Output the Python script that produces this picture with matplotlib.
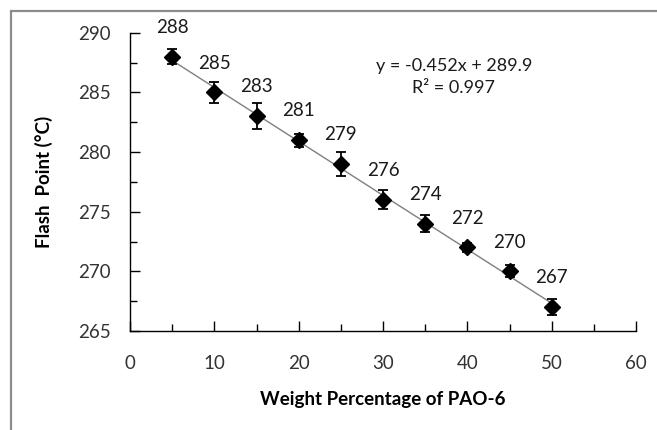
import numpy as np
import matplotlib
matplotlib.use("Agg")
import matplotlib.pyplot as plt
from matplotlib.patches import Rectangle

# data
pao = [5, 10, 15, 20, 25, 30, 35, 40, 45, 50]
flash = [288, 285, 283, 281, 279, 276, 274, 272, 270, 267]
err = [0.6, 0.85, 1.1, 0.55, 1.0, 0.8, 0.7, 0.4, 0.5, 0.65]
eq_text = "y = -0.452x + 289.9"
r2_text = "R\u00b2 = 0.997"

plt.rcParams['font.family'] = ['Lato', 'DejaVu Sans']

fig = plt.figure(figsize=(6.57, 4.30), dpi=100)
ax = fig.add_axes([130/657, 1-331/430, (636-130)/657, (331-32.7)/430])

# outer chart frame (grey)
fig.patches.append(Rectangle((11/657, -0.1), 1.2, 1-11/430+0.1, transform=fig.transFigure,
                             fill=False, edgecolor='#8c8c8c', linewidth=1.6))

# trendline
k, b = np.polyfit(pao, flash, 1)
xs = np.array([pao[0], pao[-1]])
ax.plot(xs, k*xs + b, color='#7f7f7f', linewidth=1.0, zorder=1)

ax.errorbar(pao, flash, yerr=err, fmt='D', color='black', markersize=8.5,
            ecolor='black', elinewidth=1.3, capsize=3.5, capthick=1.3, zorder=3)

for xv, yv in zip(pao, flash):
    ax.annotate(str(yv), (xv, yv), xytext=(0, 15), textcoords='offset points',
                ha='center', va='bottom', fontsize=13.5, color='#1a1a1a')

ax.text(0.64, 0.889, eq_text, transform=ax.transAxes, ha='center', va='center',
        fontsize=13, color='#1a1a1a')
ax.text(0.64, 0.815, r2_text, transform=ax.transAxes, ha='center', va='center',
        fontsize=13, color='#1a1a1a')

ax.set_xlim(0, 60)
ax.set_ylim(265, 290)
ax.set_xticks(range(0, 61, 10))
ax.set_xticks(range(5, 60, 10), minor=True)
ax.set_yticks(range(265, 291, 5))
ax.set_yticks(np.arange(267.5, 290, 5), minor=True)

for s in ['top', 'right']:
    ax.spines[s].set_visible(False)
for s in ['left', 'bottom']:
    ax.spines[s].set_linewidth(1.0)
    ax.spines[s].set_color('black')

ax.tick_params(axis='both', which='major', direction='in', length=7, width=1.0,
               labelsize=13.5, labelcolor='#333333')
ax.tick_params(axis='both', which='minor', direction='in', length=5, width=1.0)
ax.tick_params(axis='x', which='major', pad=17)
ax.tick_params(axis='y', which='major', pad=14)

ax.set_xlabel("Weight Percentage of PAO-6", fontsize=13.5, fontweight='bold', labelpad=14)
ax.set_ylabel("Flash  Point (\u00b0C)", fontsize=13.5, fontweight='bold', labelpad=18)

fig.savefig("out.png", dpi=100)
